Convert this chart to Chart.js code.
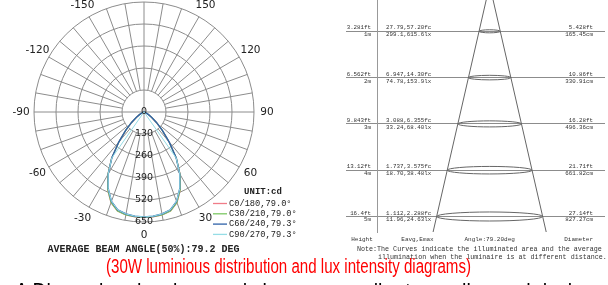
<!DOCTYPE html>
<html>
<head>
<meta charset="utf-8">
<script src="https://cdn.jsdelivr.net/npm/chart.js@4.4.1/dist/chart.umd.min.js"></script>
<style>
    html, body { margin: 0; padding: 0; background: #fff; }
    body { width: 608px; height: 285px; position: relative; overflow: hidden; }
    #polarBox { position: absolute; left: 0; top: 0; width: 300px; height: 260px; }
    #coneBox { position: absolute; left: 300px; top: 0; width: 308px; height: 262px; }
    #lblCaption { position: absolute; left: 106px; top: 256px; white-space: nowrap; color: #ff0000;
        font: 20px/20px "Liberation Sans Narrow", "Liberation Sans", Arial, sans-serif; transform-origin: 0 0; }
    #lblNotice { position: absolute; left: 15px; top: 280px; white-space: nowrap; color: #000;
        font: 24px/24px "Liberation Sans", Arial, sans-serif; transform-origin: 0 0; }
</style>
</head>
<body>
<div id="polarBox"><canvas id="polarChart"></canvas></div>
<div id="coneBox"><canvas id="coneChart"></canvas></div>
<div id="lblCaption">(30W luminious distribution and lux intensity diagrams)</div>
<div id="lblNotice">A Dimension drawings and sizes are smaller to reading and design</div>
<script>
//Polar diagram data (cd)////////////////////////////////////////////////////////////
var gammaAngles = [0, 5, 10, 15, 20, 25, 30, 35, 40, 45, 50, 55, 60, 65, 70, 75, 80, 85, 90];
var c0Values  = [624, 622, 618, 606, 570, 508, 428, 334, 232, 150, 94, 55, 30, 15, 8, 4, 2, 1, 0];
var c30Values = [623, 621, 617, 605, 569, 507, 427, 333, 231, 150, 94, 55, 30, 15, 8, 4, 2, 1, 0];
var c60Values = [620, 618, 612, 599, 562, 500, 423, 332, 232, 152, 96, 56, 31, 15, 8, 4, 2, 1, 0];
var c90Values = [620, 618, 612, 599, 562, 500, 423, 332, 0, 0, 0, 0, 0, 0, 0, 0, 0, 0, 0];
var seriesNames = ['C0/180,79.0°', 'C30/210,79.0°', 'C60/240,79.3°', 'C90/270,79.3°'];
var seriesColors = ['#f07c88', '#7cc864', '#2f62a8', '#96dde6'];
var angleTicks = [0, -30, -60, -90, -120, -150, 150, 120, 90, 60, 30];
var radialTicks = [0, 130, 260, 390, 520, 650];
var unitText = 'UNIT:cd';
var beamText = 'AVERAGE BEAM ANGLE(50%):79.2 DEG';

//Cone diagram data//////////////////////////////////////////////////////////////////
var distanceM = [1, 2, 3, 4, 5];
var distanceFt = ['3.281ft', '6.562ft', '9.843ft', '13.12ft', '16.4ft'];
var fcValues = ['27.79,57.20fc', '6.947,14.30fc', '3.088,6.355fc', '1.737,3.575fc', '1.112,2.288fc'];
var lxValues = ['299.1,615.6lx', '74.78,153.9lx', '33.24,68.40lx', '18.70,38.48lx', '11.96,24.63lx'];
var diameterFt = ['5.428ft', '10.86ft', '16.28ft', '21.71ft', '27.14ft'];
var diameterCm = [165.45, 330.91, 496.36, 661.82, 827.27];
var coneAngle = 79.20;
var footerLabels = ['Height', 'Eavg,Emax', 'Angle:79.20deg', 'Diameter'];
var noteLines = ['Note:The Curves indicate the illuminated area and the average',
                 'illumination when the luminaire is at different distance.'];

var gridColor = '#8c8c8c';
var textColor = '#222';

//Polar chart////////////////////////////////////////////////////////////////////////
// labels run clockwise from the bottom: 0, -5 ... -175, 180, 175 ... 5
var polarLabels = [];
for (var i = 0; i < 72; i++) {
    var a = -i * 5;
    if (a <= -180) a += 360;
    polarLabels.push(a);
}
function ToFullCircle(values) {
    return polarLabels.map(function (a) {
        var k = gammaAngles.indexOf(Math.abs(a));
        return k >= 0 ? values[k] : 0;
    });
}

var polarDecor = {
    id: 'polarDecor',
    beforeDatasetsDraw: function (chart) {
        var r = chart.scales.r;
        var ctx = chart.ctx;
        var maxV = radialTicks[radialTicks.length - 1];
        ctx.save();
        ctx.strokeStyle = gridColor;
        ctx.lineWidth = 1;
        ctx.beginPath();
        for (var i = 0; i < polarLabels.length; i++) {
            if (polarLabels[i] % 10 !== 0) continue;
            // main axes go through the centre, the others start at the first ring
            var from = polarLabels[i] % 90 === 0 ? 0 : radialTicks[1];
            var p1 = r.getPointPositionForValue(i, from);
            var p2 = r.getPointPositionForValue(i, maxV);
            ctx.moveTo(p1.x, p1.y);
            ctx.lineTo(p2.x, p2.y);
        }
        ctx.stroke();
        ctx.restore();
    },
    afterDatasetsDraw: function (chart) {
        var r = chart.scales.r;
        var ctx = chart.ctx;
        ctx.save();
        ctx.fillStyle = textColor;
        ctx.textAlign = 'center';
        ctx.textBaseline = 'middle';

        ctx.font = '10.5px "DejaVu Sans"';
        for (var i = 0; i < polarLabels.length; i++) {
            if (angleTicks.indexOf(polarLabels[i]) < 0) continue;
            var p = r.getPointPosition(i, r.drawingArea + 13);
            ctx.fillText(String(polarLabels[i]), p.x, p.y);
        }

        ctx.font = '9.5px "DejaVu Sans"';
        radialTicks.forEach(function (v) {
            var p = r.getPointPositionForValue(0, v);
            ctx.fillText(String(v), p.x, p.y);
        });

        //Legend
        ctx.font = 'bold 9px "Liberation Mono"';
        ctx.fillText(unitText, 263, 192);
        ctx.font = '8.7px "Liberation Mono"';
        ctx.textAlign = 'left';
        chart.data.datasets.forEach(function (ds, k) {
            var y = 203.5 + k * 10.3;
            ctx.strokeStyle = ds.borderColor;
            ctx.lineWidth = 1.3;
            ctx.beginPath();
            ctx.moveTo(213, y);
            ctx.lineTo(227, y);
            ctx.stroke();
            ctx.fillText(ds.label, 229, y);
        });

        ctx.font = 'bold 10px "Liberation Mono"';
        ctx.fillText(beamText, 47.5, 249);
        ctx.restore();
    }
};

var polarChart = new Chart(document.getElementById('polarChart'), {
    type: 'radar',
    data: {
        labels: polarLabels,
        datasets: [
            { label: seriesNames[0], data: ToFullCircle(c0Values), borderColor: seriesColors[0], order: 4 },
            { label: seriesNames[1], data: ToFullCircle(c30Values), borderColor: seriesColors[1], order: 3 },
            { label: seriesNames[2], data: ToFullCircle(c60Values), borderColor: seriesColors[2], order: 2, borderWidth: 1.4 },
            { label: seriesNames[3], data: ToFullCircle(c90Values), borderColor: seriesColors[3], order: 1, borderWidth: 1 }
        ]
    },
    options: {
        responsive: true,
        maintainAspectRatio: false,
        animation: false,
        events: [],
        layout: { padding: { left: 34, right: 46, top: 2, bottom: 38 } },
        elements: {
            line: { borderWidth: 1.2, fill: false, tension: 0 },
            point: { radius: 0 }
        },
        plugins: { legend: { display: false }, tooltip: { enabled: false } },
        scales: {
            r: {
                min: 0,
                max: 650,
                startAngle: 180,
                ticks: { display: false, stepSize: 130 },
                grid: { circular: true, color: gridColor, lineWidth: 1 },
                angleLines: { display: false },
                pointLabels: { display: false }
            }
        }
    },
    plugins: [polarDecor]
});

//Cone chart/////////////////////////////////////////////////////////////////////////
var yMax = 5.335;
var halfTan = Math.tan(coneAngle / 2 * Math.PI / 180);

var coneDecor = {
    id: 'coneDecor',
    afterDatasetsDraw: function (chart) {
        var xs = chart.scales.x;
        var ys = chart.scales.y;
        var area = chart.chartArea;
        var ctx = chart.ctx;
        var cx = xs.getPixelForValue(0);
        ctx.save();
        ctx.strokeStyle = '#666';
        ctx.lineWidth = 1;
        distanceM.forEach(function (d, i) {
            var y = ys.getPixelForValue(d);
            var rx = xs.getPixelForValue(diameterCm[i] / 200) - cx;
            var ry = rx * 0.07 + 0.8;
            ctx.beginPath();
            ctx.ellipse(cx, y, rx, ry, 0, 0, Math.PI * 2);
            ctx.stroke();
        });

        ctx.fillStyle = '#333';
        ctx.textBaseline = 'middle';
        ctx.font = '5.8px "Liberation Mono"';
        distanceM.forEach(function (d, i) {
            var y = ys.getPixelForValue(d);
            ctx.textAlign = 'left';
            ctx.fillText(fcValues[i], area.left + 9, y - 3.4);
            ctx.fillText(lxValues[i], area.left + 9, y + 3.4);
            ctx.textAlign = 'right';
            ctx.fillText(diameterFt[i], area.right - 12, y - 3.4);
            ctx.fillText(diameterCm[i].toFixed(2) + 'cm', area.right - 12, y + 3.4);
        });

        ctx.font = '6px "Liberation Mono"';
        ctx.textAlign = 'center';
        ctx.fillText(footerLabels[0], 62, 239);
        ctx.fillText(footerLabels[1], 117.5, 239);
        ctx.fillText(footerLabels[2], cx, 239);
        ctx.textAlign = 'right';
        ctx.fillText(footerLabels[3], area.right - 12, 239);

        ctx.font = '6.7px "Liberation Mono"';
        ctx.textAlign = 'left';
        ctx.fillText(noteLines[0], 57, 249.5);
        ctx.fillText(noteLines[1], 78, 257);
        ctx.restore();
    }
};

var coneChart = new Chart(document.getElementById('coneChart'), {
    type: 'scatter',
    data: {
        datasets: [
            { data: [{ x: 0, y: 0 }, { x: -halfTan * yMax, y: yMax }] },
            { data: [{ x: 0, y: 0 }, { x: halfTan * yMax, y: yMax }] }
        ]
    },
    options: {
        responsive: true,
        maintainAspectRatio: false,
        animation: false,
        events: [],
        layout: { padding: { left: 0, right: 3, top: 0, bottom: 30 } },
        elements: {
            line: { borderColor: '#666', borderWidth: 1 },
            point: { radius: 0 }
        },
        datasets: { scatter: { showLine: true } },
        plugins: { legend: { display: false }, tooltip: { enabled: false } },
        scales: {
            x: { type: 'linear', min: -8.79, max: 9.0, display: false },
            y: {
                type: 'linear',
                min: 0.324,
                max: yMax,
                reverse: true,
                afterBuildTicks: function (scale) {
                    scale.ticks = distanceM.map(function (d) { return { value: d }; });
                },
                afterFit: function (scale) {
                    scale.width = 77;
                },
                ticks: {
                    padding: -25,
                    color: '#333',
                    font: { family: 'Liberation Mono', size: 5.8, lineHeight: 1.17 },
                    callback: function (value) {
                        var k = distanceM.indexOf(value);
                        return [distanceFt[k], distanceM[k] + 'm'];
                    }
                },
                grid: { color: gridColor, tickLength: 31, drawTicks: true },
                border: { display: true, color: '#999' }
            }
        }
    },
    plugins: [coneDecor]
});

//Captions////////////////////////////////////////////////////////////////////////////
function FitWidth(id, width) {
    var el = document.getElementById(id);
    var w = el.getBoundingClientRect().width;
    el.style.transform = 'scaleX(' + (width / w) + ')';
}
FitWidth('lblCaption', 365);
FitWidth('lblNotice', 579);
</script>
</body>
</html>
